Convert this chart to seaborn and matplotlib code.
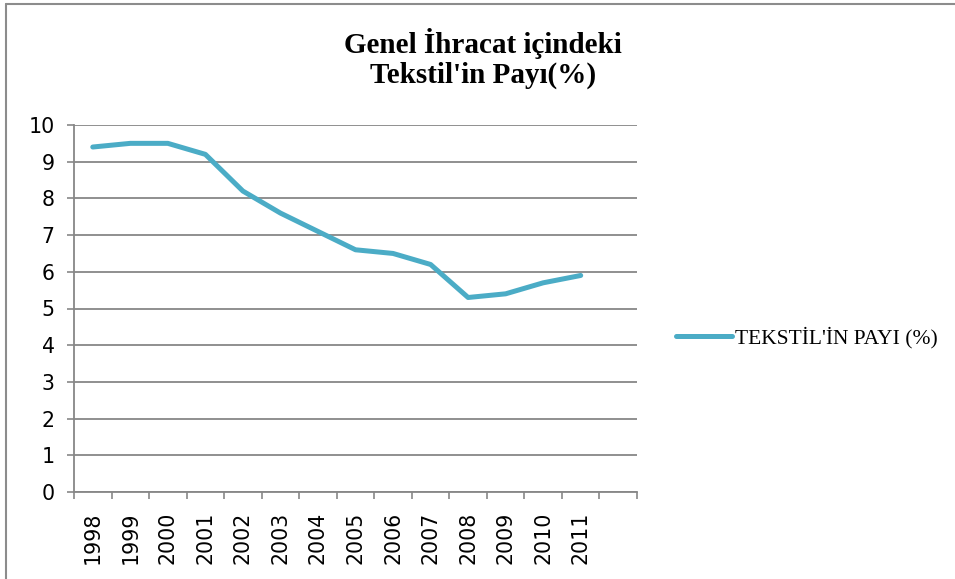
import numpy as np
import pandas as pd
import matplotlib
matplotlib.use("Agg")
import matplotlib.pyplot as plt
from matplotlib.lines import Line2D
import seaborn as sns

years = [1998, 1999, 2000, 2001, 2002, 2003, 2004, 2005, 2006, 2007, 2008, 2009, 2010, 2011]
share = [9.4, 9.5, 9.5, 9.2, 8.2, 7.6, 7.1, 6.6, 6.5, 6.2, 5.3, 5.4, 5.7, 5.9]
series_name = "TEKSTİL'İN PAYI (%)"
title_lines = ["Genel İhracat içindeki", "Tekstil'in Payı(%)"]

sns.set_theme(style="white")
plt.rcParams['font.family'] = ['DejaVu Sans']
plt.rcParams['text.color'] = 'black'
plt.rcParams['xtick.labelcolor'] = 'black'
plt.rcParams['ytick.labelcolor'] = 'black'

grid_col = "#878787"
line_col = "#4BACC6"

df = pd.DataFrame({"Year": years, "Share": share})

fig = plt.figure(figsize=(9.55, 5.79), dpi=100)
ax = fig.add_axes([74 / 955, 1 - 492 / 579, (637 - 74) / 955, (492 - 125) / 579])

sns.lineplot(data=df, x="Year", y="Share", ax=ax, color=line_col, linewidth=3.6,
             label=series_name, solid_capstyle="round", solid_joinstyle="round")

ax.set_xlim(1997.5, 2012.5)
ax.set_ylim(0, 10)
ax.set_xlabel("")
ax.set_ylabel("")

# y axis
ax.set_yticks(range(0, 11))
ax.yaxis.grid(True, color=grid_col, linewidth=1.3)
ax.set_axisbelow(True)
ax.tick_params(axis="y", which="major", direction="out", length=5, width=1.2,
               color=grid_col, labelcolor="black", labelsize=14.8, pad=9, left=True)

# x axis: labels in the middle of each slot, ticks on the boundaries
ax.set_xticks(years)
ax.set_xticklabels([str(y) for y in years], rotation=90)
ax.set_xticks(np.arange(1997.5, 2013, 1), minor=True)
ax.tick_params(axis="x", which="major", length=0, labelcolor="black", labelsize=14.8, pad=14)
ax.tick_params(axis="x", which="minor", direction="out", length=5, width=1.2,
               color=grid_col, bottom=True)
for lab in ax.get_xticklabels():
    lab.set_va("top")
    lab.set_ha("center")

for side in ["top", "right"]:
    ax.spines[side].set_visible(False)
for side in ["left", "bottom"]:
    ax.spines[side].set_color(grid_col)
    ax.spines[side].set_linewidth(1.3)

leg = ax.legend(loc="center left", bbox_to_anchor=(676 / 955, 1 - 338 / 579),
                bbox_transform=fig.transFigure, frameon=False, borderpad=0,
                borderaxespad=0, handlelength=2.6, handletextpad=0.15,
                prop={"family": "Liberation Serif", "size": 15.5})
for t in leg.get_texts():
    t.set_color("black")

fig.text(483 / 955, 1 - 53 / 579, title_lines[0], ha="center", va="baseline",
         family="Liberation Serif", weight="bold", fontsize=21, color="black")
fig.text(483 / 955, 1 - 83 / 579, title_lines[1], ha="center", va="baseline",
         family="Liberation Serif", weight="bold", fontsize=21, color="black")

# outer chart frame (only top and left edges visible in the reference)
fig.add_artist(Line2D([6 / 955, 6 / 955], [0, 1 - 4 / 579], transform=fig.transFigure,
                      color="#8c8c8c", linewidth=1.5))
fig.add_artist(Line2D([6 / 955, 1], [1 - 4 / 579, 1 - 4 / 579], transform=fig.transFigure,
                      color="#8c8c8c", linewidth=1.5))

fig.savefig("out.png", dpi=100)
